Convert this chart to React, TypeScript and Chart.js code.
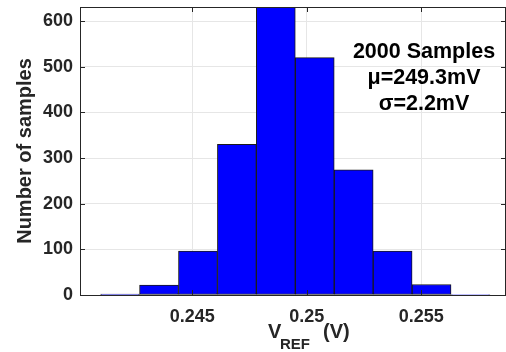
import React, { useEffect, useRef } from 'react';
import { Chart, registerables } from 'chart.js';

Chart.register(...registerables);

const binCenters = [0.24185, 0.24355, 0.24525, 0.24695, 0.24865, 0.25035, 0.25205, 0.25375, 0.25545, 0.25715];
const sampleCounts = [2, 22, 96, 330, 636, 520, 274, 96, 23, 1];
const xTickValues = [0.245, 0.25, 0.255];
const xTickLabels = ['0.245', '0.25', '0.255'];
const yTickValues = [0, 100, 200, 300, 400, 500, 600];
const xRange = [0.2401, 0.2587];
const yRange = [0, 631];
const annotationLines = ['2000 Samples', 'μ=249.3mV', 'σ=2.2mV'];
const yTitle = 'Number of samples';

const FONT = "'Liberation Sans', Arial, Helvetica, sans-serif";
const AXIS = '#262626';
const GRID = '#e6e6e6';

const boxPlugin = {
  id: 'boxPlugin',
  afterDraw(chart: any) {
    const { ctx, chartArea, scales } = chart;
    const { left, right, top, bottom } = chartArea;
    ctx.save();
    ctx.strokeStyle = AXIS;
    ctx.lineWidth = 1;
    ctx.beginPath();
    ctx.moveTo(left, top + 0.5);
    ctx.lineTo(right, top + 0.5);
    ctx.moveTo(right - 0.5, top);
    ctx.lineTo(right - 0.5, bottom);
    const tl = 5;
    xTickValues.forEach((v) => {
      const px = Math.round(scales.x.getPixelForValue(v)) + 0.5;
      ctx.moveTo(px, bottom);
      ctx.lineTo(px, bottom - tl);
      ctx.moveTo(px, top);
      ctx.lineTo(px, top + tl);
    });
    yTickValues.forEach((v) => {
      const py = Math.round(scales.y.getPixelForValue(v)) + 0.5;
      ctx.moveTo(left, py);
      ctx.lineTo(left + tl, py);
      ctx.moveTo(right, py);
      ctx.lineTo(right - tl, py);
    });
    ctx.stroke();
    ctx.restore();
  },
};

export default function App() {
  const canvasRef = useRef<HTMLCanvasElement | null>(null);

  useEffect(() => {
    document.body.style.margin = '0';
    const canvas = canvasRef.current;
    if (!canvas) return;
    const chart = new Chart(canvas, {
      type: 'bar',
      data: {
        datasets: [
          {
            data: binCenters.map((c, i) => ({ x: c, y: sampleCounts[i] })),
            backgroundColor: '#0000ff',
            borderColor: '#1a1a1a',
            borderWidth: 1,
            borderSkipped: false,
            barPercentage: 1,
            categoryPercentage: 1,
          } as any,
        ],
      },
      options: {
        animation: false,
        responsive: false,
        devicePixelRatio: 1,
        layout: { padding: { top: 7, right: 0, left: 0, bottom: 0 } },
        plugins: {
          legend: { display: false },
          tooltip: { enabled: false },
        },
        scales: {
          x: {
            type: 'linear',
            offset: false,
            min: xRange[0],
            max: xRange[1],
            afterBuildTicks: (s: any) => {
              s.ticks = xTickValues.map((v) => ({ value: v }));
            },
            afterFit: (s: any) => {
              s.height = 57;
              s.paddingLeft = 0;
              s.paddingRight = 0;
            },
            ticks: {
              callback: (v: any) => {
                const i = xTickValues.findIndex((t) => Math.abs(t - v) < 1e-9);
                return i >= 0 ? xTickLabels[i] : '';
              },
              font: { family: FONT, size: 18, weight: 'bold' },
              color: AXIS,
              padding: 11,
              maxRotation: 0,
              autoSkip: false,
            },
            grid: { color: GRID, drawTicks: false, lineWidth: 1, offset: false },
            border: { color: AXIS, width: 1 },
          },
          y: {
            type: 'linear',
            min: yRange[0],
            max: yRange[1],
            afterBuildTicks: (s: any) => {
              s.ticks = yTickValues.map((v) => ({ value: v }));
            },
            afterFit: (s: any) => {
              s.width = 80;
              s.paddingTop = 0;
              s.paddingBottom = 0;
            },
            ticks: {
              font: { family: FONT, size: 18, weight: 'bold' },
              color: AXIS,
              padding: 7,
            },
            grid: { color: GRID, drawTicks: false, lineWidth: 1 },
            border: { color: AXIS, width: 1 },
            title: {
              display: true,
              text: yTitle,
              font: { family: FONT, size: 20, weight: 'bold' },
              color: AXIS,
              padding: { top: 13, bottom: 0 },
            },
          },
        },
      } as any,
      plugins: [boxPlugin],
    });
    return () => chart.destroy();
  }, []);

  return (
    <div style={{ position: 'fixed', left: 0, top: 0, width: 506, height: 352, background: '#fff', overflow: 'hidden' }}>
      <canvas ref={canvasRef} width={506} height={352} style={{ display: 'block', width: 506, height: 352 }} />
      <div
        style={{
          position: 'absolute',
          left: 343,
          width: 162,
          top: 38,
          textAlign: 'center',
          fontFamily: FONT,
          fontWeight: 'bold',
          fontSize: 21.5,
          lineHeight: '26px',
          color: '#000',
          whiteSpace: 'nowrap',
        }}
      >
        {annotationLines.map((t, i) => (
          <div key={i}>{t}</div>
        ))}
      </div>
      <div
        style={{
          position: 'absolute',
          left: 0,
          top: 0,
          fontFamily: FONT,
          fontWeight: 'bold',
          color: AXIS,
          whiteSpace: 'nowrap',
        }}
      >
        <span style={{ position: 'absolute', left: 268, top: 321, fontSize: 20, lineHeight: '20px' }}>V</span>
        <span style={{ position: 'absolute', left: 280, top: 336, fontSize: 15, lineHeight: '15px' }}>REF</span>
        <span style={{ position: 'absolute', left: 323, top: 321, fontSize: 20, lineHeight: '20px' }}> (V)</span>
      </div>
    </div>
  );
}
